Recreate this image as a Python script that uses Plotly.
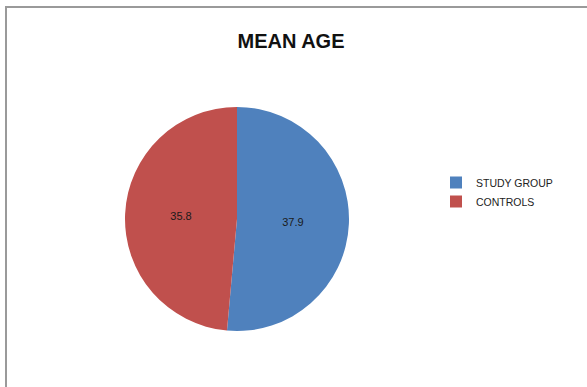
import plotly.graph_objects as go

labels = ["STUDY GROUP", "CONTROLS"]
values = [37.9, 35.8]
colors = ["#4F81BD", "#C0504D"]

W, H = 587, 387
cx, cy, r = 237, 219, 112

fig = go.Figure(go.Pie(
    labels=labels, values=values, sort=False, direction="clockwise", rotation=0,
    marker=dict(colors=colors, line=dict(width=0)),
    textinfo="value", textposition="inside", insidetextorientation="horizontal",
    textfont=dict(family="Liberation Sans", size=11, color="#1a1a1a"),
    domain=dict(x=[(cx - r) / W, (cx + r) / W], y=[1 - (cy + r) / H, 1 - (cy - r) / H]),
    hoverinfo="label+value",
))

fig.update_layout(
    width=W, height=H,
    margin=dict(l=0, r=0, t=0, b=0),
    paper_bgcolor="white", plot_bgcolor="white",
    title=dict(text="<b>MEAN AGE</b>", x=291 / W, xanchor="center", y=1 - 41 / H, yanchor="middle",
               font=dict(family="Liberation Sans", size=20, color="#111")),
    legend=dict(x=436 / W, y=1 - 168 / H, xanchor="left", yanchor="top",
                font=dict(family="Liberation Sans Narrow, Liberation Sans", size=10.5, color="#222"),
                itemwidth=30, tracegroupgap=0),
    shapes=[dict(type="rect", xref="paper", yref="paper",
                 x0=6 / W, x1=1.02, y0=-0.02, y1=1 - 7 / H,
                 line=dict(color="#9a9a9a", width=2), fillcolor="rgba(0,0,0,0)", layer="below")],
)

fig.write_html("out.html")
